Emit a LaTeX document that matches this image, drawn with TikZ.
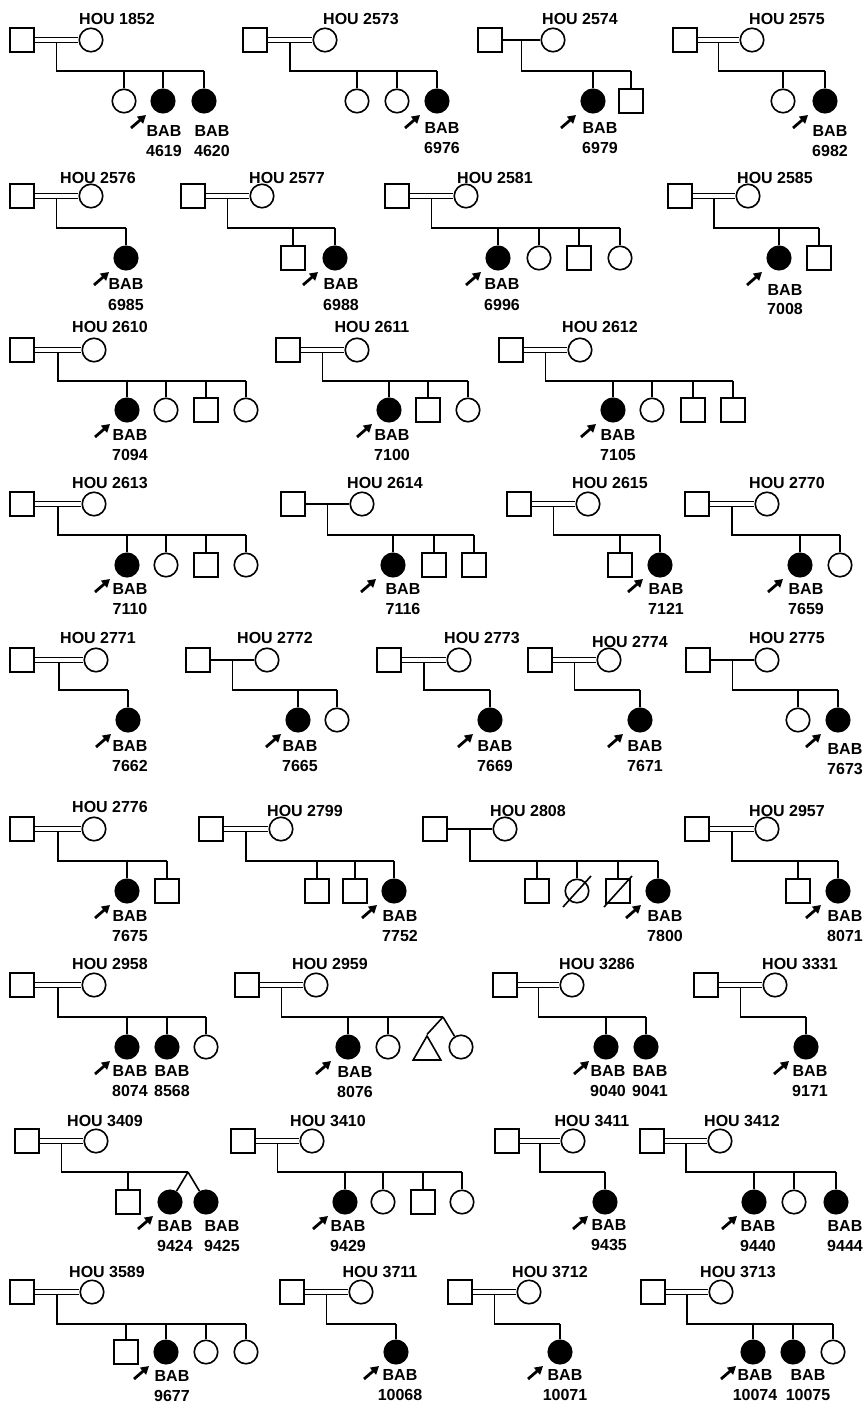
\documentclass[tikz,border=0pt]{standalone}
\usepackage{fontspec}
\setmainfont{Liberation Sans}
\usetikzlibrary{arrows.meta,calc,shapes.geometric}
\pgfdeclarelayer{back}
\pgfdeclarelayer{bg}
\pgfsetlayers{back,bg,main}
\tikzset{
  ln/.style={line width=1.6pt},
  male/.style={draw, rectangle, minimum size=23.5pt, inner sep=0pt, line width=1.6pt, fill=white},
  female/.style={draw, circle, minimum size=23.5pt, inner sep=0pt, line width=1.6pt, fill=white},
  aff/.style={female, fill=black},
  tri/.style={draw, regular polygon, regular polygon sides=3, minimum size=32pt, inner sep=0pt, line width=1.6pt, fill=white},
  dbl/.style={line width=1.6pt, double, double distance=3.6pt},
  sgl/.style={line width=1.6pt},
  txt/.style={font=\bfseries\fontsize{16}{19}\selectfont, inner sep=0pt, anchor=base},
  prob/.style={-{Triangle[length=8pt,width=9pt]}, line width=2.8pt},
}
\newcommand\pedfam[6]{%
  \node[male] (m#1) at (#2,#4) {};
  \node[female] (f#1) at (#3,#4) {};
  \coordinate (d#1) at ({(#2+#3)/2},#4);
  \node[txt] (h#1) at (#5,{#6+6}) {HOU #1};}
\newcommand\pedwed[3]{%
  \begin{pgfonlayer}{bg}
  \draw[ln] (d#1) |- (#3);
  \draw[#2] (m#1) -- (f#1);
  \end{pgfonlayer}}
\newcommand\pedkid[3]{%
  \node[#2] (#1) at (#3,\CY) {};
  \coordinate (#1t) at (#3,\SY);
  \begin{pgfonlayer}{bg}\draw[ln] (#1t) -- (#1);\end{pgfonlayer}}
\newcommand\pedlab[4]{%
  \node[txt] (#1b) at (#2,{#4+6}) {BAB};
  \node[txt] (#1n) at (#2,{#4+26}) {#3};}
\newcommand\pedprb[1]{\draw[prob] ($(#1)+(-32,27)$) -- ($(#1)+(-17,14)$);}
\newcommand\peddec[1]{\draw[ln] ($(#1)+(-14,16)$) -- ($(#1)+(14,-15)$);}
\begin{document}
\begin{tikzpicture}[x=1pt,y=-1pt]
\begin{pgfonlayer}{back}
\fill[white] (0,0) rectangle (863,1404);
\end{pgfonlayer}
\useasboundingbox (0,0) rectangle (863,1404);
% ---------------- Row 1
\def\SY{71}\def\CY{101}
\pedfam{1852}{22}{91}{40}{117}{19}
\pedkid{k1852a}{female}{124}\pedkid{k1852b}{aff}{163}\pedkid{k1852c}{aff}{204}
\pedwed{1852}{dbl}{k1852ct}
\pedlab{k1852b}{164}{4619}{131}\pedprb{k1852b}
\pedlab{k1852c}{212}{4620}{131}

\pedfam{2573}{255}{325}{40}{361}{19}
\pedkid{k2573a}{female}{357}\pedkid{k2573b}{female}{397}\pedkid{k2573c}{aff}{437}
\pedwed{2573}{dbl}{k2573ct}
\pedlab{k2573c}{442}{6976}{128}\pedprb{k2573c}

\pedfam{2574}{490}{553}{40}{580}{19}
\pedkid{k2574a}{aff}{593}\pedkid{k2574b}{male}{631}
\pedwed{2574}{sgl}{k2574bt}
\pedlab{k2574a}{600}{6979}{128}\pedprb{k2574a}

\pedfam{2575}{685}{752}{40}{787}{19}
\pedkid{k2575a}{female}{783}\pedkid{k2575b}{aff}{825}
\pedwed{2575}{dbl}{k2575bt}
\pedlab{k2575b}{830}{6982}{131}\pedprb{k2575b}

% ---------------- Row 2
\def\SY{228}\def\CY{258}
\pedfam{2576}{22}{91}{196}{98}{178}
\pedkid{k2576a}{aff}{126}
\pedwed{2576}{dbl}{k2576at}
\pedlab{k2576a}{126}{6985}{284}\pedprb{k2576a}

\pedfam{2577}{193}{262}{196}{287}{178}
\pedkid{k2577a}{male}{293}\pedkid{k2577b}{aff}{335}
\pedwed{2577}{dbl}{k2577bt}
\pedlab{k2577b}{341}{6988}{284}\pedprb{k2577b}

\pedfam{2581}{397}{466}{196}{495}{178}
\pedkid{k2581a}{aff}{498}\pedkid{k2581b}{female}{539}\pedkid{k2581c}{male}{579}\pedkid{k2581d}{female}{620}
\pedwed{2581}{dbl}{k2581dt}
\pedlab{k2581a}{502}{6996}{284}\pedprb{k2581a}

\pedfam{2585}{680}{748}{196}{775}{178}
\pedkid{k2585a}{aff}{779}\pedkid{k2585b}{male}{819}
\pedwed{2585}{dbl}{k2585bt}
\pedlab{k2585a}{785}{7008}{289}\pedprb{k2585a}

% ---------------- Row 3
\def\SY{381}\def\CY{410}
\pedfam{2610}{22}{94}{350}{110}{326}
\pedkid{k2610a}{aff}{127}\pedkid{k2610b}{female}{166}\pedkid{k2610c}{male}{206}\pedkid{k2610d}{female}{246}
\pedwed{2610}{dbl}{k2610dt}
\pedlab{k2610a}{130}{7094}{434}\pedprb{k2610a}

\pedfam{2611}{288}{357}{350}{372}{326}
\pedkid{k2611a}{aff}{389}\pedkid{k2611b}{male}{428}\pedkid{k2611c}{female}{468}
\pedwed{2611}{dbl}{k2611ct}
\pedlab{k2611a}{392}{7100}{434}\pedprb{k2611a}

\pedfam{2612}{511}{580}{350}{600}{326}
\pedkid{k2612a}{aff}{613}\pedkid{k2612b}{female}{652}\pedkid{k2612c}{male}{693}\pedkid{k2612d}{male}{733}
\pedwed{2612}{dbl}{k2612dt}
\pedlab{k2612a}{618}{7105}{434}\pedprb{k2612a}

% ---------------- Row 4
\def\SY{535}\def\CY{565}
\pedfam{2613}{22}{94}{504}{110}{482}
\pedkid{k2613a}{aff}{127}\pedkid{k2613b}{female}{166}\pedkid{k2613c}{male}{206}\pedkid{k2613d}{female}{246}
\pedwed{2613}{dbl}{k2613dt}
\pedlab{k2613a}{130}{7110}{588}\pedprb{k2613a}

\pedfam{2614}{293}{362}{504}{385}{482}
\pedkid{k2614a}{aff}{393}\pedkid{k2614b}{male}{434}\pedkid{k2614c}{male}{474}
\pedwed{2614}{sgl}{k2614ct}
\pedlab{k2614a}{403}{7116}{588}\pedprb{k2614a}

\pedfam{2615}{519}{588}{504}{610}{482}
\pedkid{k2615a}{male}{620}\pedkid{k2615b}{aff}{660}
\pedwed{2615}{dbl}{k2615bt}
\pedlab{k2615b}{666}{7121}{588}\pedprb{k2615b}

\pedfam{2770}{697}{767}{504}{787}{482}
\pedkid{k2770a}{aff}{800}\pedkid{k2770b}{female}{840}
\pedwed{2770}{dbl}{k2770bt}
\pedlab{k2770a}{806}{7659}{588}\pedprb{k2770a}

% ---------------- Row 5
\def\SY{690}\def\CY{720}
\pedfam{2771}{22}{96}{660}{98}{637}
\pedkid{k2771a}{aff}{128}
\pedwed{2771}{dbl}{k2771at}
\pedlab{k2771a}{130}{7662}{745}\pedprb{k2771a}

\pedfam{2772}{198}{267}{660}{275}{637}
\pedkid{k2772a}{aff}{298}\pedkid{k2772b}{female}{337}
\pedwed{2772}{sgl}{k2772bt}
\pedlab{k2772a}{300}{7665}{745}\pedprb{k2772a}

\pedfam{2773}{389}{459}{660}{482}{637}
\pedkid{k2773a}{aff}{490}
\pedwed{2773}{dbl}{k2773at}
\pedlab{k2773a}{495}{7669}{745}\pedprb{k2773a}

\pedfam{2774}{540}{609}{660}{630}{641}
\pedkid{k2774a}{aff}{640}
\pedwed{2774}{dbl}{k2774at}
\pedlab{k2774a}{645}{7671}{745}\pedprb{k2774a}

\pedfam{2775}{698}{767}{660}{787}{637}
\pedkid{k2775a}{female}{798}\pedkid{k2775b}{aff}{838}
\pedwed{2775}{sgl}{k2775bt}
\pedlab{k2775b}{845}{7673}{748}\pedprb{k2775b}

% ---------------- Row 6
\def\SY{861}\def\CY{891}
\pedfam{2776}{22}{94}{829}{110}{806}
\pedkid{k2776a}{aff}{127}\pedkid{k2776b}{male}{167}
\pedwed{2776}{dbl}{k2776bt}
\pedlab{k2776a}{130}{7675}{915}\pedprb{k2776a}

\pedfam{2799}{211}{281}{829}{305}{810}
\pedkid{k2799a}{male}{317}\pedkid{k2799b}{male}{355}\pedkid{k2799c}{aff}{394}
\pedwed{2799}{dbl}{k2799ct}
\pedlab{k2799c}{400}{7752}{915}\pedprb{k2799c}

\pedfam{2808}{435}{505}{829}{528}{810}
\pedkid{k2808a}{male}{537}\pedkid{k2808b}{female}{577}\pedkid{k2808c}{male}{618}\pedkid{k2808d}{aff}{658}
\peddec{k2808b}\peddec{k2808c}
\pedwed{2808}{sgl}{k2808dt}
\pedlab{k2808d}{665}{7800}{915}\pedprb{k2808d}

\pedfam{2957}{697}{767}{829}{787}{810}
\pedkid{k2957a}{male}{798}\pedkid{k2957b}{aff}{838}
\pedwed{2957}{dbl}{k2957bt}
\pedlab{k2957b}{845}{8071}{915}\pedprb{k2957b}

% ---------------- Row 7
\def\SY{1017}\def\CY{1047}
\pedfam{2958}{22}{94}{985}{110}{963}
\pedkid{k2958a}{aff}{127}\pedkid{k2958b}{aff}{167}\pedkid{k2958c}{female}{206}
\pedwed{2958}{dbl}{k2958ct}
\pedlab{k2958a}{130}{8074}{1070}\pedprb{k2958a}
\pedlab{k2958b}{172}{8568}{1070}

\pedfam{2959}{247}{316}{985}{330}{963}
\pedkid{k2959a}{aff}{348}\pedkid{k2959b}{female}{388}
\coordinate (tw2959) at (443,\SY);
\node[tri] (k2959c) at (427,1052) {};
\node[female] (k2959d) at (461,\CY) {};
\begin{pgfonlayer}{bg}
\draw[ln] (tw2959) -- (k2959c.corner 1);
\draw[ln] (tw2959) -- (k2959d);
\end{pgfonlayer}
\pedwed{2959}{dbl}{tw2959}
\pedlab{k2959a}{355}{8076}{1071}\pedprb{k2959a}

\pedfam{3286}{505}{572}{985}{597}{963}
\pedkid{k3286a}{aff}{606}\pedkid{k3286b}{aff}{646}
\pedwed{3286}{dbl}{k3286bt}
\pedlab{k3286a}{608}{9040}{1070}\pedprb{k3286a}
\pedlab{k3286b}{650}{9041}{1070}

\pedfam{3331}{706}{775}{985}{800}{963}
\pedkid{k3331a}{aff}{806}
\pedwed{3331}{dbl}{k3331at}
\pedlab{k3331a}{810}{9171}{1070}\pedprb{k3331a}

% ---------------- Row 8
\def\SY{1172}\def\CY{1202}
\pedfam{3409}{27}{96}{1141}{105}{1120}
\pedkid{k3409a}{male}{128}
\coordinate (tw3409) at (188,\SY);
\node[aff] (k3409b) at (170,\CY) {};
\node[aff] (k3409c) at (206,\CY) {};
\begin{pgfonlayer}{bg}
\draw[ln] (tw3409) -- (k3409b);
\draw[ln] (tw3409) -- (k3409c);
\end{pgfonlayer}
\pedwed{3409}{dbl}{tw3409}
\pedlab{k3409b}{175}{9424}{1225}\pedprb{k3409b}
\pedlab{k3409c}{222}{9425}{1225}

\pedfam{3410}{243}{312}{1141}{328}{1120}
\pedkid{k3410a}{aff}{345}\pedkid{k3410b}{female}{383}\pedkid{k3410c}{male}{423}\pedkid{k3410d}{female}{462}
\pedwed{3410}{dbl}{k3410dt}
\pedlab{k3410a}{348}{9429}{1225}\pedprb{k3410a}

\pedfam{3411}{507}{573}{1141}{592}{1120}
\pedkid{k3411a}{aff}{605}
\pedwed{3411}{dbl}{k3411at}
\pedlab{k3411a}{609}{9435}{1224}\pedprb{k3411a}

\pedfam{3412}{652}{720}{1141}{742}{1120}
\pedkid{k3412a}{aff}{754}\pedkid{k3412b}{female}{794}\pedkid{k3412c}{aff}{836}
\pedwed{3412}{dbl}{k3412ct}
\pedlab{k3412a}{758}{9440}{1225}\pedprb{k3412a}
\pedlab{k3412c}{845}{9444}{1225}

% ---------------- Row 9
\def\SY{1324}\def\CY{1352}
\pedfam{3589}{22}{92}{1292}{107}{1271}
\pedkid{k3589a}{male}{126}\pedkid{k3589b}{aff}{166}\pedkid{k3589c}{female}{206}\pedkid{k3589d}{female}{246}
\pedwed{3589}{dbl}{k3589dt}
\pedlab{k3589b}{172}{9677}{1375}\pedprb{k3589b}

\pedfam{3711}{292}{361}{1292}{380}{1271}
\pedkid{k3711a}{aff}{396}
\pedwed{3711}{dbl}{k3711at}
\pedlab{k3711a}{400}{10068}{1374}\pedprb{k3711a}

\pedfam{3712}{460}{529}{1292}{550}{1271}
\pedkid{k3712a}{aff}{560}
\pedwed{3712}{dbl}{k3712at}
\pedlab{k3712a}{565}{10071}{1374}\pedprb{k3712a}

\pedfam{3713}{653}{721}{1292}{738}{1271}
\pedkid{k3713a}{aff}{753}\pedkid{k3713b}{aff}{793}\pedkid{k3713c}{female}{833}
\pedwed{3713}{dbl}{k3713ct}
\pedlab{k3713a}{755}{10074}{1374}\pedprb{k3713a}
\pedlab{k3713b}{808}{10075}{1374}
\end{tikzpicture}
\end{document}
